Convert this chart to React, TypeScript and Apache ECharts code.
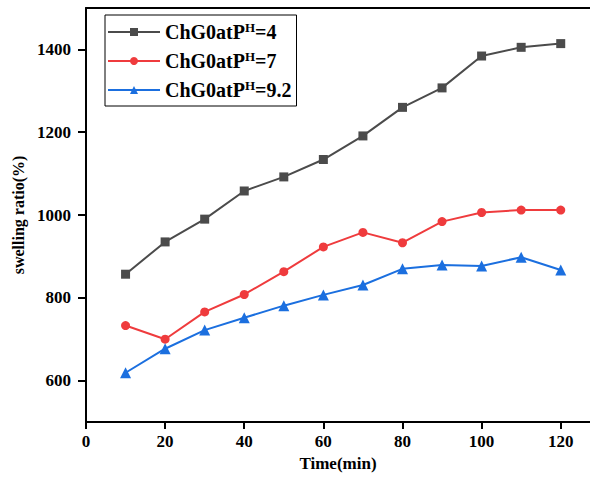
import React, { useEffect, useRef } from 'react';
import * as echarts from 'echarts';

const times = [10, 20, 30, 40, 50, 60, 70, 80, 90, 100, 110, 120];
const seriesNames = ['ChG0atPH=4', 'ChG0atPH=7', 'ChG0atPH=9.2'];
const legendLabels = ['ChG0atP{sup|H}{n|=4}', 'ChG0atP{sup|H}{n|=7}', 'ChG0atP{sup|H}{n|=9.2}'];
const ph4 = [857, 935, 990, 1058, 1092, 1134, 1191, 1260, 1307, 1384, 1405, 1414];
const ph7 = [733, 700, 766, 808, 863, 923, 958, 933, 984, 1006, 1012, 1012];
const ph92 = [619, 677, 722, 752, 781, 807, 831, 870, 879, 877, 898, 867];
const xTicks = [0, 20, 40, 60, 80, 100, 120];
const yTicks = [600, 800, 1000, 1200, 1400];

const colors = ['#4b4b4b', '#ef3b3d', '#1b6fdf'];
const symbols = ['rect', 'circle', 'triangle'];
const symbolSizes = [9, 9, 11];
const FONT = '"Times New Roman", "Liberation Serif", serif';

export default function App() {
  const ref = useRef<HTMLDivElement>(null);
  useEffect(() => {
    if (!ref.current) return;
    const chart = echarts.init(ref.current, null, { renderer: 'svg' });
    const values = [ph4, ph7, ph92];
    chart.setOption({
      animation: false,
      grid: { left: 86, right: 0, top: 8, bottom: 61, containLabel: false },
      legend: {
        orient: 'vertical',
        left: 105,
        top: 15,
        padding: [6, 5, 6, 2],
        itemGap: 8,
        itemWidth: 52,
        itemHeight: 10,
        borderColor: '#000',
        borderWidth: 1,
        data: seriesNames,
        formatter: (name: string) => legendLabels[seriesNames.indexOf(name)],
        textStyle: {
          fontFamily: FONT,
          fontWeight: 'bold',
          fontSize: 20,
          color: '#000',
          rich: {
            n: { fontFamily: FONT, fontWeight: 'bold', fontSize: 20, color: '#000', lineHeight: 22 },
            sup: { fontFamily: FONT, fontWeight: 'bold', fontSize: 13, color: '#000', verticalAlign: 'top', lineHeight: 22 },
          },
        },
      },
      xAxis: [
        {
          type: 'value',
          min: 0,
          max: 127.4,
          name: 'Time(min)',
          nameLocation: 'middle',
          nameGap: 32,
          nameTextStyle: { fontFamily: FONT, fontWeight: 'bold', fontSize: 17, color: '#000' },
          splitLine: { show: false },
          axisLine: { show: true, onZero: false, lineStyle: { color: '#000', width: 2 } },
          axisTick: { show: true, length: 7, lineStyle: { color: '#000', width: 2 }, customValues: xTicks },
          axisLabel: { fontFamily: FONT, fontWeight: 'bold', fontSize: 17, color: '#000', margin: 11, customValues: xTicks, formatter: (v: number) => String(v) },
        },
        {
          type: 'value',
          position: 'top',
          min: 0,
          max: 127.4,
          splitLine: { show: false },
          axisLine: { show: true, onZero: false, lineStyle: { color: '#000', width: 2 } },
          axisTick: { show: false },
          axisLabel: { show: false },
        },
      ],
      yAxis: {
        type: 'value',
        min: 500,
        max: 1500,
        name: 'swelling ratio(%)',
        nameLocation: 'middle',
        nameGap: 58,
        nameTextStyle: { fontFamily: FONT, fontWeight: 'bold', fontSize: 16, color: '#000' },
        splitLine: { show: false },
        axisLine: { show: true, onZero: false, lineStyle: { color: '#000', width: 2 } },
        axisTick: { show: true, length: 8, lineStyle: { color: '#000', width: 2 }, customValues: yTicks },
        axisLabel: { fontFamily: FONT, fontWeight: 'bold', fontSize: 17, color: '#000', margin: 15, customValues: yTicks, formatter: (v: number) => String(v) },
      },
      series: values.map((vals, i) => ({
        name: seriesNames[i],
        type: 'line',
        xAxisIndex: 0,
        data: times.map((t, j) => [t, vals[j]]),
        symbol: symbols[i],
        symbolSize: symbolSizes[i],
        showAllSymbol: true,
        itemStyle: { color: colors[i] },
        lineStyle: { color: colors[i], width: 2 },
      })),
    });
    return () => chart.dispose();
  }, []);
  return <div ref={ref} style={{ position: 'absolute', left: 0, top: 0, width: 590, height: 483 }} />;
}
